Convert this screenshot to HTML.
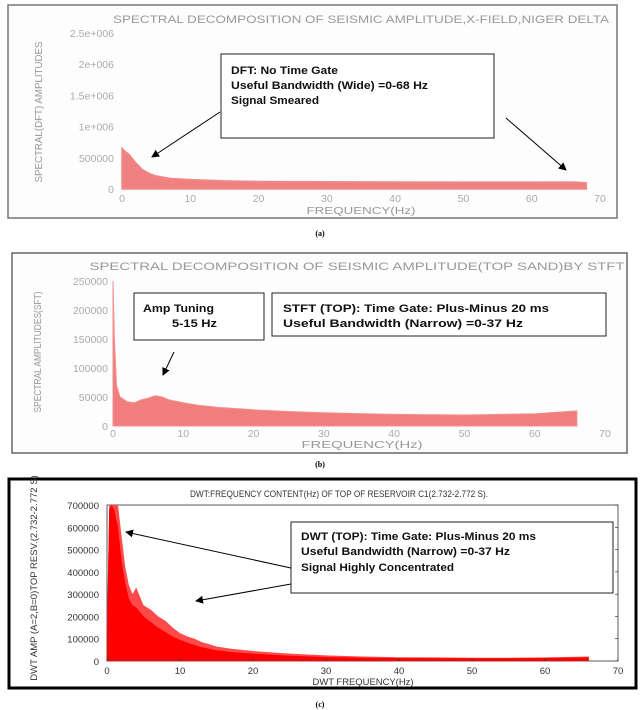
<!DOCTYPE html>
<html><head><meta charset="utf-8"><style>
html,body{margin:0;padding:0;background:#fff;}
svg{display:block;font-family:"Liberation Sans",sans-serif;}
.ann{font-family:"Liberation Sans",sans-serif;font-size:11px;font-weight:bold;fill:#111;}
.tk{font-size:10.5px;fill:#aaa;}
.tkc{font-size:9.5px;fill:#333;}
</style></head><body>
<svg id="fig" width="640" height="710" viewBox="0 0 640 710">
<rect width="640" height="710" fill="#fff"/>
<!-- Panel A -->
<g id="pa">
<rect x="8" y="5" width="609" height="213" fill="#fdfdfd" stroke="#777" stroke-width="1.5"/>
<text x="361" y="23" text-anchor="middle" font-size="11" fill="#999" textLength="496" lengthAdjust="spacingAndGlyphs">SPECTRAL DECOMPOSITION OF SEISMIC AMPLITUDE,X-FIELD,NIGER DELTA</text>
<text transform="translate(42,112) rotate(-90)" text-anchor="middle" font-size="10.5" fill="#999" textLength="141" lengthAdjust="spacingAndGlyphs">SPECTRAL(DFT) AMPLITUDES</text>
<text x="361" y="214" text-anchor="middle" font-size="10.5" fill="#999" textLength="109" lengthAdjust="spacingAndGlyphs">FREQUENCY(Hz)</text>
</g>
<!-- Panel B -->
<g id="pb">
<rect x="12" y="253" width="615" height="200" fill="#fdfdfd" stroke="#666" stroke-width="1.5"/>
<text x="357" y="270" text-anchor="middle" font-size="11" fill="#999" textLength="535" lengthAdjust="spacingAndGlyphs">SPECTRAL DECOMPOSITION OF SEISMIC AMPLITUDE(TOP SAND)BY STFT</text>
<text transform="translate(41,352) rotate(-90)" text-anchor="middle" font-size="10.5" fill="#999" textLength="121" lengthAdjust="spacingAndGlyphs">SPECTRAL AMPLITUDES(SFT)</text>
<text x="362" y="448" text-anchor="middle" font-size="10.5" fill="#999" textLength="121" lengthAdjust="spacingAndGlyphs">FREQUENCY(Hz)</text>
</g>
<!-- Panel C -->
<g id="pc">
<rect x="9" y="479" width="627" height="209" fill="#fff" stroke="#000" stroke-width="3"/>
<rect x="107" y="505" width="511" height="156" fill="#fff" stroke="#333" stroke-width="0.8"/>
<text x="339" y="497" text-anchor="middle" font-size="9.5" fill="#333" textLength="298" lengthAdjust="spacingAndGlyphs">DWT:FREQUENCY CONTENT(Hz) OF TOP OF RESERVOIR C1(2.732-2.772 S).</text>
<text transform="translate(37,578) rotate(-90)" text-anchor="middle" font-size="9.5" fill="#333">DWT AMP (A=2,B=0)TOP RESV.(2.732-2.772 S)</text>
<text x="363" y="685" text-anchor="middle" font-size="9.5" fill="#333" textLength="101" lengthAdjust="spacingAndGlyphs">DWT FREQUENCY(Hz)</text>
</g>
<text x="320" y="236" text-anchor="middle" font-size="8" font-weight="bold" font-family="Liberation Serif">(a)</text>
<text x="320" y="467" text-anchor="middle" font-size="8" font-weight="bold" font-family="Liberation Serif">(b)</text>
<text x="320" y="707" text-anchor="middle" font-size="8" font-weight="bold" font-family="Liberation Serif">(c)</text>
<g id="overlay"></g>
</svg>
<script>
// ---- Panel A data (DFT) ----
const aXTicks = [0,10,20,30,40,50,60,70];
const aYTicks = [0,500000,1000000,1500000,2000000,2500000];
const aYTickLabels = ["0","500000","1e+006","1.5e+006","2e+006","2.5e+006"];
const aFreq = [0,0.5,1,2,3,4,5,7,10,15,20,30,40,50,60,66,68];
const aAmp = [650000,600000,560000,420000,310000,250000,210000,170000,150000,130000,120000,115000,112000,110000,110000,112000,100000];
// ---- Panel B data (STFT) ----
const bXTicks = [0,10,20,30,40,50,60,70];
const bYTicks = [0,50000,100000,150000,200000,250000];
const bFreq = [0,0.2,0.5,1,2,3,4,5,6,7,8,10,12,15,20,25,30,40,50,60,66];
const bAmp = [250000,150000,70000,50000,42000,40000,45000,48000,52000,50000,45000,40000,36000,32000,28000,25000,23000,20000,19000,21000,26000];
// ---- Panel C data (DWT) ----
const cXTicks = [0,10,20,30,40,50,60,70];
const cYTicks = [0,100000,200000,300000,400000,500000,600000,700000];
const cFreq = [0,0.3,0.6,1,1.5,2,2.5,3,3.5,4,5,6,7,8,9,10,11,12,13,14,15,17,20,22,25,30,35,40,45,50,55,60,66];
const cAmp = [150000,700000,700000,700000,700000,560000,420000,340000,300000,330000,250000,230000,200000,180000,150000,125000,110000,100000,85000,75000,65000,55000,45000,40000,33000,25000,20000,17000,16000,15000,15000,16000,20000];
const cCore = [120000,680000,700000,680000,600000,450000,350000,280000,250000,240000,200000,175000,150000,130000,110000,95000,82000,72000,62000,55000,48000,40000,33000,29000,24000,18000,15000,13000,12000,12000,12000,13000,16000];

const NS='http://www.w3.org/2000/svg';
const fig=document.getElementById('fig');
function mk(tag,attrs,parent){const e=document.createElementNS(NS,tag);for(const k in attrs)e.setAttribute(k,attrs[k]);(parent||fig).appendChild(e);return e;}
function lin(d0,d1,r0,r1){return v=>r0+(v-d0)*(r1-r0)/(d1-d0);}
function areaPath(xs,ys,xS,yS){let d='M'+xS(xs[0])+','+yS(0);for(let i=0;i<xs.length;i++)d+=' L'+xS(xs[i]).toFixed(1)+','+yS(ys[i]).toFixed(1);d+=' L'+xS(xs[xs.length-1])+','+yS(0)+' Z';return d;}

// Panel A
const aX=lin(0,70,122,600), aY=lin(0,2500000,189,33);
const pa=document.getElementById('pa');
const aArea=mk('path',{d:areaPath(aFreq,aAmp,aX,aY),fill:'#ee6b6b','fill-opacity':'0.85',stroke:'#f08a8a','stroke-width':'1.5'},pa);


aXTicks.forEach(v=>{const t=mk('text',{x:aX(v),y:aY(0)+13,'text-anchor':'middle',class:'tk'},pa);t.textContent=v;

});
aYTicks.forEach((v,i)=>{const t=mk('text',{x:114,y:aY(v)+4,'text-anchor':'end',class:'tk'},pa);t.textContent=aYTickLabels[i];

});

// Panel B
const bX=lin(0,70,113,605), bY=lin(0,250000,426,281);
const pb=document.getElementById('pb');
const bArea=mk('path',{d:areaPath(bFreq,bAmp,bX,bY),fill:'#ef6f6f','fill-opacity':'0.9',stroke:'#f39090','stroke-width':'1'},pb);


bXTicks.forEach(v=>{const t=mk('text',{x:bX(v),y:bY(0)+11,'text-anchor':'middle',class:'tk'},pb);t.textContent=v;

});
bYTicks.forEach(v=>{const t=mk('text',{x:108,y:bY(v)+4,'text-anchor':'end',class:'tk'},pb);t.textContent=v;

});

// Panel C
const cX=lin(0,70,107,618), cY=lin(0,700000,661,505);
const pc=document.getElementById('pc');
const clip=mk('clipPath',{id:'cclip'},pc);mk('rect',{x:107,y:505,width:511,height:156},clip);
const cPeak=mk('path',{d:areaPath(cFreq,cAmp,cX,cY),fill:'#ff4a4a','clip-path':'url(#cclip)'},pc);


const cCoreP=mk('path',{d:areaPath(cFreq,cCore,cX,cY),fill:'#f00','clip-path':'url(#cclip)'},pc);


cXTicks.forEach(v=>{const t=mk('text',{x:cX(v),y:cY(0)+13,'text-anchor':'middle',class:'tkc'},pc);t.textContent=v;


mk('line',{x1:cX(v),x2:cX(v),y1:661,y2:658,stroke:'#333','stroke-width':'0.7'},pc);});
cYTicks.forEach(v=>{const t=mk('text',{x:99,y:cY(v)+4,'text-anchor':'end',class:'tkc'},pc);t.textContent=v;


mk('line',{x1:615,x2:618,y1:cY(v),y2:cY(v),stroke:'#333','stroke-width':'0.7'},pc);});

// Annotations
const ov=document.getElementById('overlay');
const defs=mk('defs',{},ov);
const mar=mk('marker',{id:'ah',markerWidth:'8',markerHeight:'8',refX:'7',refY:'4',orient:'auto',markerUnits:'userSpaceOnUse'},defs);
mk('path',{d:'M0,0 L8,4 L0,8 Z',fill:'#000'},mar);
function box(x,y,w,h,name){const r=mk('rect',{x:x,y:y,width:w,height:h,fill:'#fff',stroke:'#222','stroke-width':'1'},ov);

}
function txt(x,y,s,len,name){const t=mk('text',{x:x,y:y,class:'ann',textLength:len,lengthAdjust:'spacingAndGlyphs'},ov);t.textContent=s;

}
function arrow(x1,y1,x2,y2,name){const l=mk('line',{x1:x1,y1:y1,x2:x2,y2:y2,stroke:'#000','stroke-width':'1','marker-end':'url(#ah)'},ov);

}
box(221,54,273,84,'panel-a-annotation-box');
txt(231,74,'DFT: No Time Gate',107,'panel-a-annotation-line1');
txt(231,89,'Useful Bandwidth (Wide) =0-68 Hz',197,'panel-a-annotation-line2');
txt(231,104,'Signal Smeared',88,'panel-a-annotation-line3');
arrow(220,112,152,157,'panel-a-arrow-left');
arrow(506,118,566,170,'panel-a-arrow-right');

box(134,293,130,47,'panel-b-tuning-box');
txt(143,312,'Amp Tuning',71,'panel-b-tuning-line1');
txt(172,327,'5-15 Hz',45,'panel-b-tuning-line2');
box(272,293,334,43,'panel-b-stft-box');
txt(283,312,'STFT (TOP):  Time Gate: Plus-Minus 20 ms',266,'panel-b-stft-line1');
txt(283,327,'Useful Bandwidth  (Narrow) =0-37 Hz',240,'panel-b-stft-line2');
arrow(174,352,163,375,'panel-b-arrow');

box(291,522,322,71,'panel-c-annotation-box');
txt(301,540,'DWT (TOP):  Time Gate:  Plus-Minus 20 ms',235,'panel-c-annotation-line1');
txt(301,555,'Useful Bandwidth (Narrow) =0-37 Hz',209,'panel-c-annotation-line2');
txt(301,571,'Signal Highly Concentrated',153,'panel-c-annotation-line3');
arrow(291,568,126,532,'panel-c-arrow-upper');
arrow(291,584,196,601,'panel-c-arrow-lower');
</script>
</body></html>
